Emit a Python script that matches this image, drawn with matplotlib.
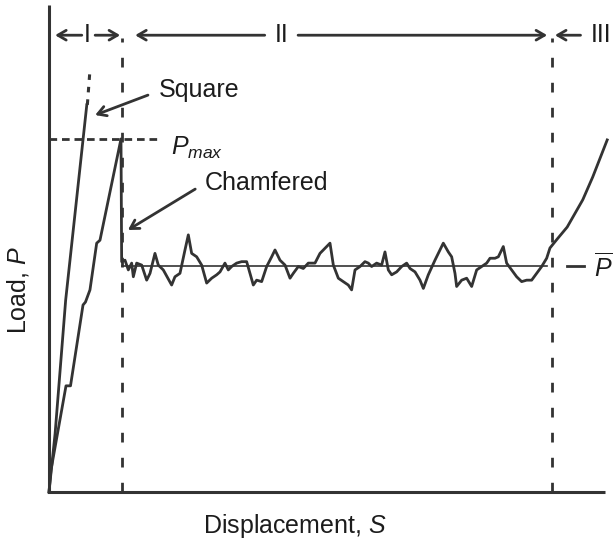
import matplotlib
matplotlib.use("Agg")
import matplotlib.pyplot as plt

plt.rcParams["font.family"] = ["Liberation Sans", "DejaVu Sans"]
plt.rcParams["mathtext.fontset"] = "custom"
plt.rcParams["mathtext.rm"] = "Liberation Sans"
plt.rcParams["mathtext.it"] = "Liberation Sans:italic"
plt.rcParams["lines.scale_dashes"] = False

INK = "#333333"
TXT = "#1c1c1c"

# Square specimen: linear rise to failure (dotted tail beyond last recorded point)
square_s = [0.0, 1.1, 3.0, 6.8]
square_p = [0.0, 12.0, 39.4, 79.5]
square_tail_s = [6.9, 7.4]
square_tail_p = [79.5, 87.1]

# Chamfered specimen: stage I rise to peak, sudden drop, stage II plateau, stage III rise
chamf_s = [0.0, 0.36, 3.06, 3.87, 6.12, 6.56, 7.37, 8.58, 9.17, 12.95, 13.07,
           13.67, 14.27, 14.87, 15.17, 15.77, 16.67, 17.57, 18.17, 19.06, 19.66,
           20.56, 22.06, 22.66, 23.56, 24.46, 25.06, 25.66, 26.56, 27.46, 28.36,
           29.26, 30.16, 30.76, 31.65, 32.25, 32.85, 33.75, 34.65, 35.55, 36.15,
           36.75, 37.35, 38.25, 39.15, 40.05, 40.65, 41.55, 42.45, 43.35, 43.94,
           44.84, 45.74, 46.64, 47.84, 48.74, 50.54, 51.14, 52.04, 52.93, 53.83,
           54.43, 55.04, 55.94, 56.83, 57.43, 58.03, 58.93, 59.83, 60.43, 61.03,
           61.63, 62.53, 63.43, 64.33, 64.93, 65.83, 66.73, 67.33, 68.22, 69.42,
           70.32, 70.92, 71.82, 72.42, 73.02, 73.32, 74.22, 75.12, 76.02, 76.92,
           77.82, 78.72, 79.32, 80.22, 80.82, 81.71, 82.31, 83.21, 84.11, 85.01,
           85.91, 86.81, 87.71, 88.61, 89.51, 90.1, 91.3, 93.2, 96.0, 97.8, 100.4]
chamf_p = [0.0, 4.5, 21.8, 21.8, 38.4, 39.0, 41.5, 51.1, 51.7, 72.5, 47.3,
           47.6, 45.6, 47.0, 44.2, 47.0, 46.6, 43.5, 44.9, 49.0, 46.6,
           45.6, 42.5, 44.2, 44.9, 49.7, 52.8, 49.0, 48.3, 46.6, 42.9,
           43.9, 44.6, 45.2, 47.0, 45.6, 46.3, 47.0, 47.3, 47.3, 44.9,
           42.5, 43.5, 43.2, 46.3, 48.3, 49.7, 47.6, 46.6, 43.9, 44.9,
           46.3, 45.9, 47.0, 47.0, 49.0, 51.1, 46.6, 43.9, 43.2, 42.5,
           41.5, 45.6, 46.3, 47.3, 47.0, 46.3, 47.0, 46.6, 49.3, 45.6,
           44.6, 45.2, 46.3, 47.0, 45.9, 45.2, 43.5, 41.8, 44.6, 47.6,
           49.7, 51.1, 49.3, 48.3, 44.9, 42.2, 43.5, 43.9, 42.2, 45.6,
           46.3, 47.0, 48.0, 48.0, 48.3, 50.4, 47.0, 45.6, 44.2, 43.2,
           43.5, 43.5, 44.9, 46.3, 48.0, 50.1, 51.8, 54.4, 60.0, 64.7, 72.3]

p_max = 72.5
p_mean = 46.4
stage_bounds = [0.0, 13.1, 90.5]
stage_labels = ["I", "II", "III"]

fig = plt.figure(figsize=(6.13, 5.46), dpi=100)
ax = fig.add_axes([0, 0, 1, 1])
ax.set_xlim(-8.81, 101.44)
ax.set_ylim(-11.09, 101.03)
ax.axis("off")

# Axes lines
ax.plot([0, 0, 100], [100, 0, 0], color=INK, lw=2.2, solid_capstyle="butt",
        solid_joinstyle="miter")

# Stage boundaries
for sb in stage_bounds[1:]:
    ax.plot([sb, sb], [0, 93.3], color=INK, lw=2.0, dashes=(7, 11))

# Reference levels
ax.plot([0, 19.4], [p_max, p_max], color=INK, lw=2.0, dashes=(5.5, 3.5))
ax.plot([13.1, 89.6], [p_mean, p_mean], color=INK, lw=1.2)
ax.plot([93.2, 96.2], [p_mean, p_mean], color=INK, lw=2.0)

# Load curves
ax.plot(square_s, square_p, color=INK, lw=2.0, solid_joinstyle="round")
ax.plot(square_tail_s, square_tail_p, color=INK, lw=2.2, dashes=(4, 5))
ax.plot(chamf_s, chamf_p, color=INK, lw=2.0, solid_joinstyle="round")

# Stage span arrows
arrow_kw = dict(arrowstyle="->,head_length=0.6,head_width=0.35", color=INK, lw=2.0,
                shrinkA=0, shrinkB=0)
y_st = 93.8
ax.annotate("", xy=(1.1, y_st), xytext=(5.9, y_st), arrowprops=arrow_kw)
ax.annotate("", xy=(12.8, y_st), xytext=(8.3, y_st), arrowprops=arrow_kw)
ax.annotate("", xy=(15.5, y_st), xytext=(38.8, y_st), arrowprops=arrow_kw)
ax.annotate("", xy=(89.6, y_st), xytext=(44.8, y_st), arrowprops=arrow_kw)
ax.annotate("", xy=(91.0, y_st), xytext=(95.6, y_st), arrowprops=arrow_kw)
ax.text(6.9, y_st, stage_labels[0], fontsize=18, color=TXT, ha="center", va="center")
ax.text(41.8, y_st, stage_labels[1], fontsize=18, color=TXT, ha="center", va="center")
ax.text(97.4, y_st, stage_labels[2], fontsize=18, color=TXT, ha="left", va="center")

# Annotations
ax.annotate("", xy=(8.3, 77.4), xytext=(17.8, 81.5), arrowprops=arrow_kw)
ax.text(19.8, 82.5, "Square", fontsize=18, color=TXT, ha="left", va="center")
ax.annotate("", xy=(14.2, 53.8), xytext=(26.3, 62.2), arrowprops=arrow_kw)
ax.text(28.1, 63.4, "Chamfered", fontsize=18, color=TXT, ha="left", va="center")
ax.text(21.9, 70.6, r"$P_{max}$", fontsize=18, color=TXT, ha="left", va="center")
ax.text(98.0, 46.2, r"$\overline{P}$", fontsize=18, color=TXT, ha="left", va="center")

# Axis titles
ax.text(44.2, -6.9, "Displacement, $S$", fontsize=18, color=TXT, ha="center", va="center")
ax.text(-5.6, 41.5, "Load, $P$", fontsize=18, color=TXT, ha="center", va="center",
        rotation=90)

fig.savefig("out.png", dpi=100, facecolor="white")
